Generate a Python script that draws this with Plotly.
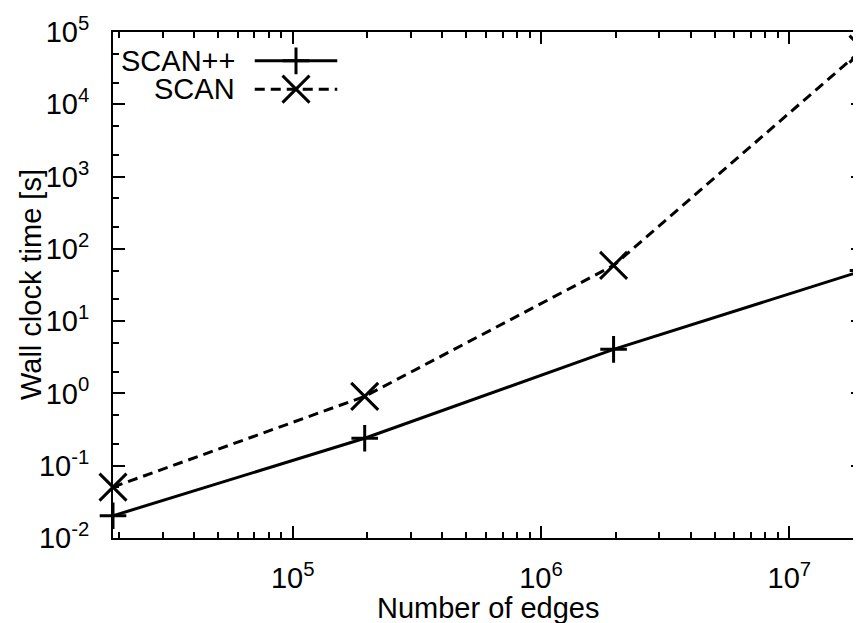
import plotly.graph_objects as go
import math

# Data
edges = [1.89e4, 1.95e5, 1.96e6, 1.98e7]
scanpp = [0.0203, 0.24, 4.07, 50]
scan = [0.0506, 0.91, 59, 58000]
series_names = ["SCAN++", "SCAN"]
x_ticks = [1e5, 1e6, 1e7]
x_ticktext = ["10<sup>5</sup>", "10<sup>6</sup>", "10<sup>7</sup>"]
y_ticks = [1e-2, 1e-1, 1e0, 1e1, 1e2, 1e3, 1e4, 1e5]
y_ticktext = ["10<sup>-2</sup>", "10<sup>-1</sup>", "10<sup>0</sup>", "10<sup>1</sup>",
              "10<sup>2</sup>", "10<sup>3</sup>", "10<sup>4</sup>", "10<sup>5</sup>"]

FONT = "Liberation Sans, Arial, sans-serif"
FS = 29
LW = 3
PLUS_SIZE = 19
X_SIZE = 27

x_minor = [k * 10 ** e for e in range(4, 8) for k in range(2, 10)]
y_minor = [k * 10 ** e for e in range(-2, 5) for k in (2, 5)]

fig = go.Figure()
fig.add_trace(go.Scatter(
    x=edges, y=scanpp, mode="lines+markers", name=series_names[0],
    line=dict(color="black", width=LW),
    marker=dict(symbol="cross-thin", size=PLUS_SIZE, line=dict(color="black", width=LW)),
    cliponaxis=False, showlegend=False))
fig.add_trace(go.Scatter(
    x=edges, y=scan, mode="lines+markers", name=series_names[1],
    line=dict(color="black", width=LW, dash="10px,6px"),
    marker=dict(symbol="x-thin", size=X_SIZE, line=dict(color="black", width=LW)),
    cliponaxis=False, showlegend=False))

# Gnuplot-style key: text on the left, sample on the right (overlay axis in [0,1])
key_y = [0.943, 0.887]
key_x0, key_x1, key_xm = 0.189, 0.299, 0.244
for i, (nm, dash, sym, sz) in enumerate([(series_names[0], "solid", "cross-thin", PLUS_SIZE),
                                         (series_names[1], "10px,6px", "x-thin", X_SIZE)]):
    fig.add_trace(go.Scatter(
        x=[key_x0, key_x1], y=[key_y[i], key_y[i]], mode="lines",
        line=dict(color="black", width=LW, dash=dash),
        xaxis="x2", yaxis="y2", showlegend=False, hoverinfo="skip"))
    fig.add_trace(go.Scatter(
        x=[key_xm], y=[key_y[i]], mode="markers",
        marker=dict(symbol=sym, size=sz, line=dict(color="black", width=LW)),
        xaxis="x2", yaxis="y2", showlegend=False, hoverinfo="skip"))
    fig.add_annotation(x=0.1636, y=key_y[i], xref="paper", yref="paper",
                       text=nm, showarrow=False, xanchor="right", yanchor="middle",
                       height=26, borderpad=0,
                       font=dict(family=FONT, size=FS, color="black"))

axis_common = dict(
    type="log", showline=True, linecolor="black", linewidth=2, mirror="allticks",
    ticks="inside", ticklen=12, tickwidth=2, tickcolor="black",
    showgrid=False, zeroline=False,
    tickfont=dict(family=FONT, size=FS, color="black"),
)

fig.update_layout(
    width=861, height=623,
    margin=dict(l=105, r=4, t=23, b=93),
    paper_bgcolor="white", plot_bgcolor="white",
    font=dict(family=FONT, size=FS, color="black"),
    xaxis=dict(**axis_common,
               range=[math.log10(edges[0]), math.log10(edges[-1])],
               tickvals=x_ticks, ticktext=x_ticktext, ticklabelstandoff=13,
               minor=dict(tickvals=x_minor, ticks="inside", ticklen=6,
                          tickwidth=2, tickcolor="black", showgrid=False)),
    yaxis=dict(**axis_common,
               range=[-2, 5],
               tickvals=y_ticks, ticktext=y_ticktext, ticklabelstandoff=16,
               minor=dict(tickvals=y_minor, ticks="inside", ticklen=6,
                          tickwidth=2, tickcolor="black", showgrid=False)),
    xaxis2=dict(overlaying="x", range=[0, 1], visible=False, fixedrange=True),
    yaxis2=dict(overlaying="y", range=[0, 1], visible=False, fixedrange=True),
    showlegend=False,
)

fig.add_annotation(x=0.5, y=0, xref="paper", yref="paper", text="Number of edges",
                   showarrow=False, xanchor="center", yanchor="middle", yshift=-70,
                   font=dict(family=FONT, size=FS, color="black"))
fig.add_annotation(x=0, y=0.5, xref="paper", yref="paper", text="Wall clock time [s]",
                   showarrow=False, xanchor="center", yanchor="middle", xshift=-82,
                   textangle=-90, font=dict(family=FONT, size=FS, color="black"))

fig.write_html("out.html")
